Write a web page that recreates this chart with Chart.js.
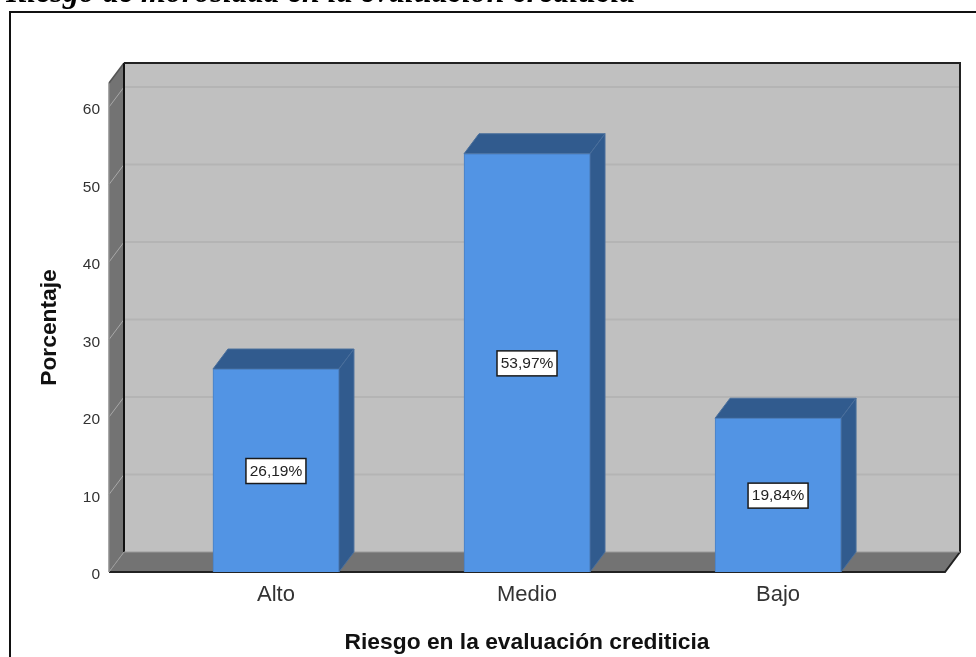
<!DOCTYPE html>
<html lang="es">
<head>
<meta charset="UTF-8">
<title>Riesgo en la evaluación crediticia</title>
<script src="https://cdn.jsdelivr.net/npm/chart.js"></script>
<style>
  html, body { margin: 0; padding: 0; background: #fff; overflow: hidden; }
  canvas { display: block; }
</style>
</head>
<body>
<canvas id="riesgoChart" width="976" height="657"></canvas>
<script>
// Datos del grafico
const categorias = ['Alto', 'Medio', 'Bajo'];
const porcentajes = [26.19, 53.97, 19.84];
const etiquetas = ['26,19%', '53,97%', '19,84%'];
const yTicks = [0, 10, 20, 30, 40, 50, 60];

const titulo = 'Riesgo de morosidad en la evaluación crediticia';

// profundidad del efecto 3D
const DX = 15;
const DY = -20;

function poly(ctx, pts, fill, stroke, lw) {
  ctx.beginPath();
  pts.forEach((p, i) => i ? ctx.lineTo(p[0], p[1]) : ctx.moveTo(p[0], p[1]));
  ctx.closePath();
  ctx.fillStyle = fill;
  ctx.fill();
  if (stroke) {
    ctx.strokeStyle = stroke;
    ctx.lineWidth = lw || 1;
    ctx.stroke();
  }
}

function linea(ctx, pts, color, lw) {
  ctx.strokeStyle = color;
  ctx.lineWidth = lw;
  ctx.beginPath();
  pts.forEach((p, i) => i ? ctx.lineTo(p[0], p[1]) : ctx.moveTo(p[0], p[1]));
  ctx.stroke();
}

// marco exterior y titulo de la figura
const marco = {
  id: 'marco',
  beforeDraw(chart) {
    const ctx = chart.ctx;
    ctx.save();
    ctx.fillStyle = '#000';
    ctx.font = 'italic bold 32px "Liberation Serif"';
    ctx.textBaseline = 'alphabetic';
    ctx.fillText(titulo, 6, 2);
    linea(ctx, [[10, 657], [10, 12], [976, 12]], '#111', 2);
    ctx.restore();
  }
};

// paredes, suelo y lineas de cuadricula
const caja = {
  id: 'caja',
  beforeDatasetsDraw(chart) {
    const { ctx, chartArea: a, scales: { y } } = chart;
    const l = a.left, r = a.right, t = a.top, b = a.bottom;
    ctx.save();
    poly(ctx, [[l + DX, t + DY], [r + DX, t + DY], [r + DX, b + DY], [l + DX, b + DY]], '#c0c0c0');
    poly(ctx, [[l, t], [l + DX, t + DY], [l + DX, b + DY], [l, b]], '#737373');
    poly(ctx, [[l, b], [l + DX, b + DY], [r + DX, b + DY], [r, b]], '#737373');

    yTicks.slice(1).forEach(v => {
      const py = y.getPixelForValue(v);
      linea(ctx, [[l + DX, py + DY], [r + DX, py + DY]], '#b4b4b4', 2);
      linea(ctx, [[l, py], [l + DX, py + DY]], '#a8a8a8', 1);
    });

    // aristas de la caja
    linea(ctx, [[l, b], [l, t]], '#8c8c8c', 1.5);
    linea(ctx, [[l, t], [l + DX, t + DY]], '#555', 1.5);
    linea(ctx, [[l + DX, t + DY], [l + DX, b + DY]], '#111', 2);
    linea(ctx, [[l + DX, t + DY], [r + DX, t + DY], [r + DX, b + DY], [r, b], [l, b]], '#222', 2);
    linea(ctx, [[l, b], [l + DX, b + DY], [r + DX, b + DY]], '#9a9a9a', 1);

    // caras superior y lateral de cada barra
    chart.getDatasetMeta(0).data.forEach(bar => {
      const { x, y: top, base, width } = bar.getProps(['x', 'y', 'base', 'width'], true);
      const x0 = x - width / 2, x1 = x + width / 2;
      poly(ctx, [[x0, top], [x0 + DX, top + DY], [x1 + DX, top + DY], [x1, top]], '#315b8e', '#4a6f9c');
      poly(ctx, [[x1, top], [x1 + DX, top + DY], [x1 + DX, base + DY], [x1, base]], '#315b8e', '#4a6f9c');
    });
    ctx.restore();
  }
};

// recuadro con el porcentaje en el centro de la barra
const rotulos = {
  id: 'rotulos',
  afterDatasetsDraw(chart) {
    const ctx = chart.ctx;
    ctx.save();
    ctx.font = '15.5px "Liberation Sans"';
    ctx.textAlign = 'center';
    ctx.textBaseline = 'middle';
    chart.getDatasetMeta(0).data.forEach((bar, i) => {
      const { x, y: top, base } = bar.getProps(['x', 'y', 'base'], true);
      const cy = (top + base) / 2 + 0.5;
      ctx.fillStyle = '#fff';
      ctx.fillRect(x - 30, cy - 12.5, 60, 25);
      ctx.strokeStyle = '#1a1a1a';
      ctx.lineWidth = 1.5;
      ctx.strokeRect(x - 30, cy - 12.5, 60, 25);
      ctx.fillStyle = '#222';
      ctx.fillText(etiquetas[i], x, cy + 0.5);
    });
    ctx.restore();
  }
};

new Chart(document.getElementById('riesgoChart'), {
  type: 'bar',
  data: {
    datasets: [{
      data: porcentajes.map((v, i) => ({ x: i, y: v })),
      backgroundColor: '#5294e4',
      borderColor: '#4a7fc0',
      borderWidth: 1,
      barThickness: 126
    }]
  },
  plugins: [marco, caja, rotulos],
  options: {
    responsive: false,
    animation: false,
    layout: { padding: { top: 83, right: 31, left: 0, bottom: 0 } },
    plugins: { legend: { display: false }, tooltip: { enabled: false } },
    scales: {
      x: {
        type: 'linear',
        offset: false,
        min: -0.665,
        max: 2.665,
        grid: { display: false },
        border: { display: false },
        afterFit(s) { s.height = 85; },
        ticks: {
          includeBounds: false,
          stepSize: 1,
          autoSkip: false,
          maxRotation: 0,
          padding: 2,
          color: '#333',
          font: { family: '"Liberation Sans"', size: 22 },
          callback: v => categorias[v]
        },
        title: {
          display: true,
          text: 'Riesgo en la evaluación crediticia',
          color: '#111',
          font: { family: '"Liberation Sans"', size: 22.8, weight: 'bold' },
          padding: { top: 0, bottom: 1 }
        }
      },
      y: {
        min: 0,
        max: 63.1,
        grid: { display: false },
        border: { display: false },
        afterFit(s) { s.width = 109; },
        afterBuildTicks(s) { s.ticks = yTicks.map(v => ({ value: v })); },
        ticks: {
          padding: 1,
          labelOffset: 3,
          color: '#333',
          font: { family: '"Liberation Sans"', size: 15.5 }
        },
        title: {
          display: true,
          text: 'Porcentaje',
          color: '#111',
          font: { family: '"Liberation Sans"', size: 22.8, weight: 'bold' },
          padding: { top: 36, bottom: 0 }
        }
      }
    }
  }
});
</script>
</body>
</html>
